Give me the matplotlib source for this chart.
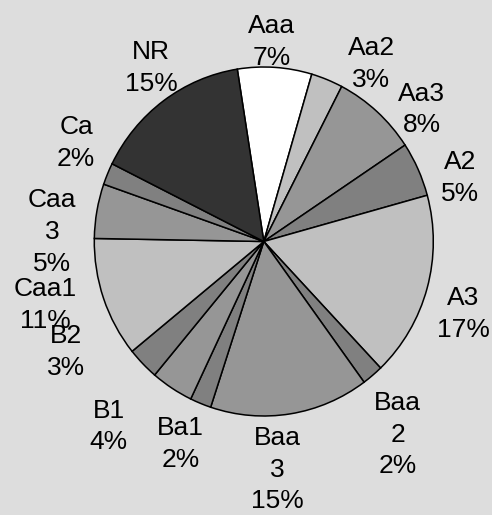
import numpy as np
import matplotlib.pyplot as plt

# ---------------------------
# data (rating shares, %)
# ---------------------------
ratings = ['Aaa', 'Aa2', 'Aa3', 'A2', 'A3', 'Baa2', 'Baa3',
           'Ba1', 'B1', 'B2', 'Caa1', 'Caa3', 'Ca', 'NR']
shares = [7, 3, 8, 5, 17, 2, 15, 2, 4, 3, 11, 5, 2, 15]

# slice fills (Excel grey pattern)
fills = ['#ffffff', '#c0c0c0', '#969696', '#808080', '#c0c0c0', '#808080',
         '#969696', '#808080', '#969696', '#808080', '#c0c0c0', '#969696',
         '#808080', '#333333']

# labels that Excel wrapped onto two lines
wrapped = {'Baa2', 'Baa3', 'Caa3'}

# label placement: radial distance + small angular nudge (deg) from slice middle
label_r = [1.144, 1.20, 1.20, 1.214, 1.247, 1.36, 1.31,
           1.26, 1.40, 1.33, 1.34, 1.25, 1.243, 1.196]
label_nudge = [1.3, -10, -9, -7, -4, -4.4, -5.4,
               -1, -8, -16, -3.3, 7.6, -4.2, -2.5]

bg = '#dddddd'
start = 99.0

# ---------------------------
# plot
# ---------------------------
fig = plt.figure(figsize=(4.92, 5.15), dpi=100, facecolor=bg)
ax = fig.add_axes([0, 0, 1, 1])
ax.set_facecolor(bg)

wedges, _ = ax.pie(shares, colors=fills, startangle=start, counterclock=False,
                   radius=1.0, center=(0, 0),
                   wedgeprops=dict(edgecolor='black', linewidth=1.1))

# slight vertical stretch like the original (x: 169.5 px/unit, y: 174.5 px/unit)
ax.set_aspect('auto')
ax.set_xlim(-263.8 / 169.5, (492 - 263.8) / 169.5)
ax.set_ylim(-(515 - 241.5) / 174.5, 241.5 / 174.5)
ax.axis('off')

total = float(sum(shares))
cum = np.cumsum([0] + shares)
for i, name in enumerate(ratings):
    mid = start - (cum[i] + shares[i] / 2.0) / total * 360.0 + label_nudge[i]
    x = label_r[i] * np.cos(np.radians(mid))
    y = label_r[i] * np.sin(np.radians(mid))
    shown = name[:-1] + '\n' + name[-1] if name in wrapped else name
    pct = '%d%%' % round(shares[i])
    ax.text(x, y, shown + '\n' + pct, ha='center', va='center',
            multialignment='center', fontsize=19, color='black',
            family=['Liberation Sans', 'DejaVu Sans'], linespacing=1.4)

plt.savefig('out.png', dpi=100, facecolor=bg)
